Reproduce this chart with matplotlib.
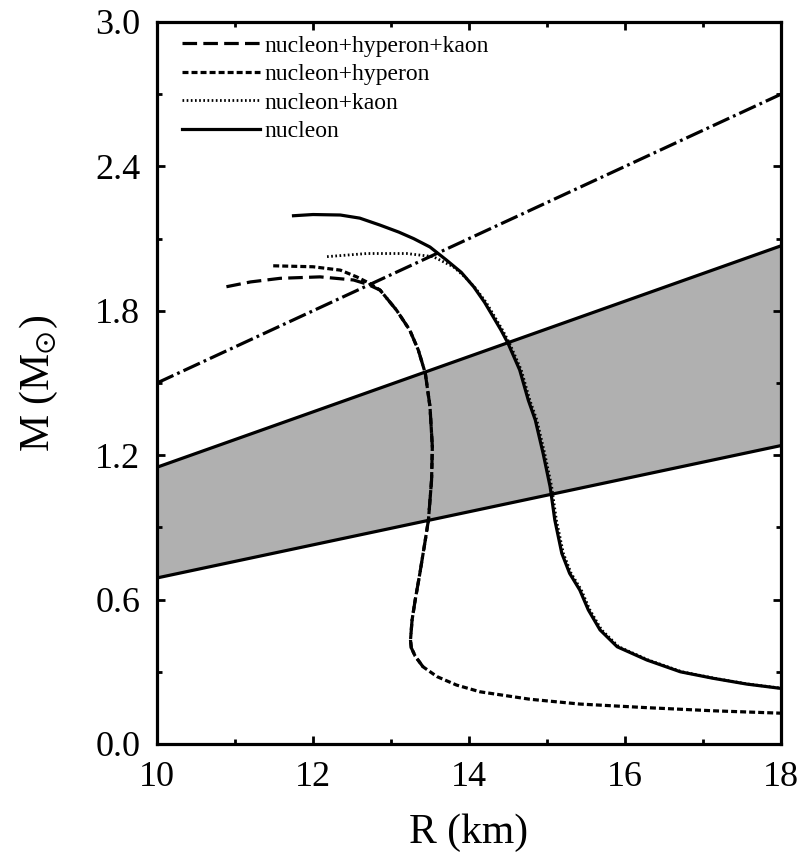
import matplotlib
matplotlib.use("Agg")
import matplotlib.pyplot as plt
import numpy as np

plt.rcParams['font.family'] = ['Liberation Serif', 'DejaVu Serif']
plt.rcParams['mathtext.fontset'] = 'stix'
plt.rcParams['lines.scale_dashes'] = False

# ---- data ----
# nucleon (solid)
R_n = [11.75, 12.0, 12.35, 12.6, 12.86, 13.1, 13.29, 13.5, 13.71, 13.9, 14.06, 14.2,
       14.31, 14.41, 14.50, 14.65, 14.76, 14.85, 14.95, 15.04, 15.10, 15.19, 15.29,
       15.42, 15.53, 15.68, 15.90, 16.28, 16.71, 17.13, 17.56, 18.0, 18.3]
M_n = [2.195, 2.200, 2.198, 2.185, 2.156, 2.127, 2.10, 2.065, 2.011, 1.96, 1.900, 1.835,
       1.775, 1.72, 1.665, 1.554, 1.429, 1.346, 1.208, 1.069, 0.931, 0.792, 0.709,
       0.640, 0.557, 0.474, 0.404, 0.349, 0.300, 0.273, 0.249, 0.231, 0.222]

# nucleon+kaon (dotted)
R_nk = [12.18, 12.69, 13.2, 13.54, 13.80, 13.95, 14.08, 14.22, 14.33, 14.43, 14.52,
        14.67, 14.78, 14.87, 14.97, 15.06, 15.12, 15.21, 15.31, 15.44, 15.55, 15.70,
        15.92, 16.30, 16.73, 17.15, 17.58, 18.0, 18.3]
M_nk = [2.025, 2.038, 2.038, 2.025, 1.983, 1.94, 1.895, 1.835, 1.775, 1.72, 1.665,
        1.554, 1.429, 1.346, 1.208, 1.069, 0.931, 0.792, 0.709, 0.640, 0.557, 0.474,
        0.404, 0.349, 0.300, 0.273, 0.249, 0.232, 0.223]

# nucleon+hyperon (short dash)
R_nh = [11.49, 12.0, 12.35, 12.56, 12.72, 12.86, 13.07, 13.24, 13.35, 13.44, 13.50,
        13.53, 13.52, 13.48, 13.44, 13.37, 13.31, 13.27, 13.25, 13.26, 13.31, 13.41,
        13.59, 13.84, 14.14, 14.78, 15.42, 16.28, 17.13, 18.0, 18.3]
M_nh = [1.987, 1.983, 1.969, 1.941, 1.915, 1.886, 1.803, 1.720, 1.637, 1.540, 1.401,
        1.235, 1.097, 0.931, 0.848, 0.709, 0.598, 0.515, 0.432, 0.40, 0.365, 0.321,
        0.280, 0.245, 0.217, 0.186, 0.166, 0.151, 0.138, 0.128, 0.125]

# nucleon+hyperon+kaon (long dash)
R_nhk = [10.89, 11.2, 11.58, 12.09, 12.52, 12.70, 12.86, 13.07, 13.24, 13.35, 13.44,
         13.50, 13.53, 13.52, 13.48, 13.44, 13.37, 13.31, 13.27, 13.25, 13.26, 13.31,
         13.41]
M_nhk = [1.90, 1.92, 1.935, 1.941, 1.928, 1.91, 1.886, 1.803, 1.720, 1.637, 1.540,
         1.401, 1.235, 1.097, 0.931, 0.848, 0.709, 0.598, 0.515, 0.432, 0.40, 0.365,
         0.321]

# constraint lines
R_line = [10.0, 18.0]
M_dashdot = [1.50, 2.70]
M_band_low = [0.69, 1.24]
M_band_high = [1.15, 2.07]

xticks = [10, 12, 14, 16, 18]
yticks = [0.0, 0.6, 1.2, 1.8, 2.4, 3.0]

# ---- figure ----
fig = plt.figure(figsize=(8.09, 8.66), dpi=100)
ax = fig.add_axes([157/809, 1-744/866, 624/809, 722/866])

lw = 2.3
ax.fill_between(R_line, M_band_low, M_band_high, color='#b0b0b0', lw=0, zorder=1)
ax.plot(R_line, M_band_low, color='k', lw=lw, solid_capstyle='butt', zorder=2)
ax.plot(R_line, M_band_high, color='k', lw=lw, solid_capstyle='butt', zorder=2)
ax.plot(R_line, M_dashdot, color='k', lw=lw, dashes=(13, 3, 2, 3), zorder=2)

ln_n, = ax.plot(R_n, M_n, color='k', lw=lw, label='nucleon', zorder=3)
ln_nk, = ax.plot(R_nk, M_nk, color='k', lw=2.0, dashes=(1.2, 1.8), label='nucleon+kaon', zorder=3)
ln_nh, = ax.plot(R_nh, M_nh, color='k', lw=lw, dashes=(4.3, 2.2), label='nucleon+hyperon', zorder=3)
ln_nhk, = ax.plot(R_nhk, M_nhk, color='k', lw=lw, dashes=(10.5, 4.5), label='nucleon+hyperon+kaon', zorder=3)

ax.set_xlim(10, 18)
ax.set_ylim(0, 3.0)
ax.set_xticks(xticks)
ax.set_yticks(yticks)
ax.set_xticks(np.arange(11, 18, 2), minor=True)
ax.set_yticks(np.arange(0.3, 3.0, 0.6), minor=True)
ax.set_xticklabels([str(v) for v in xticks])
ax.set_yticklabels([f'{v:.1f}' for v in yticks])
ax.tick_params(which='both', direction='in', top=True, right=True, width=2)
ax.tick_params(which='major', length=6, labelsize=26, pad=12)
ax.tick_params(which='minor', length=3.5)
for s in ax.spines.values():
    s.set_linewidth(2.3)

ax.set_xlabel('R (km)', fontsize=30, labelpad=14)
ax.set_ylabel(r'M (M$_{\odot}$)', fontsize=30, labelpad=25)

leg = ax.legend(handles=[ln_nhk, ln_nh, ln_nk, ln_n], loc='upper left',
                bbox_to_anchor=(0.04, 0.982), frameon=False, fontsize=17,
                handlelength=3.3, handletextpad=0.2, labelspacing=0.3,
                borderpad=0, borderaxespad=0)

fig.savefig('out.png', dpi=100)
